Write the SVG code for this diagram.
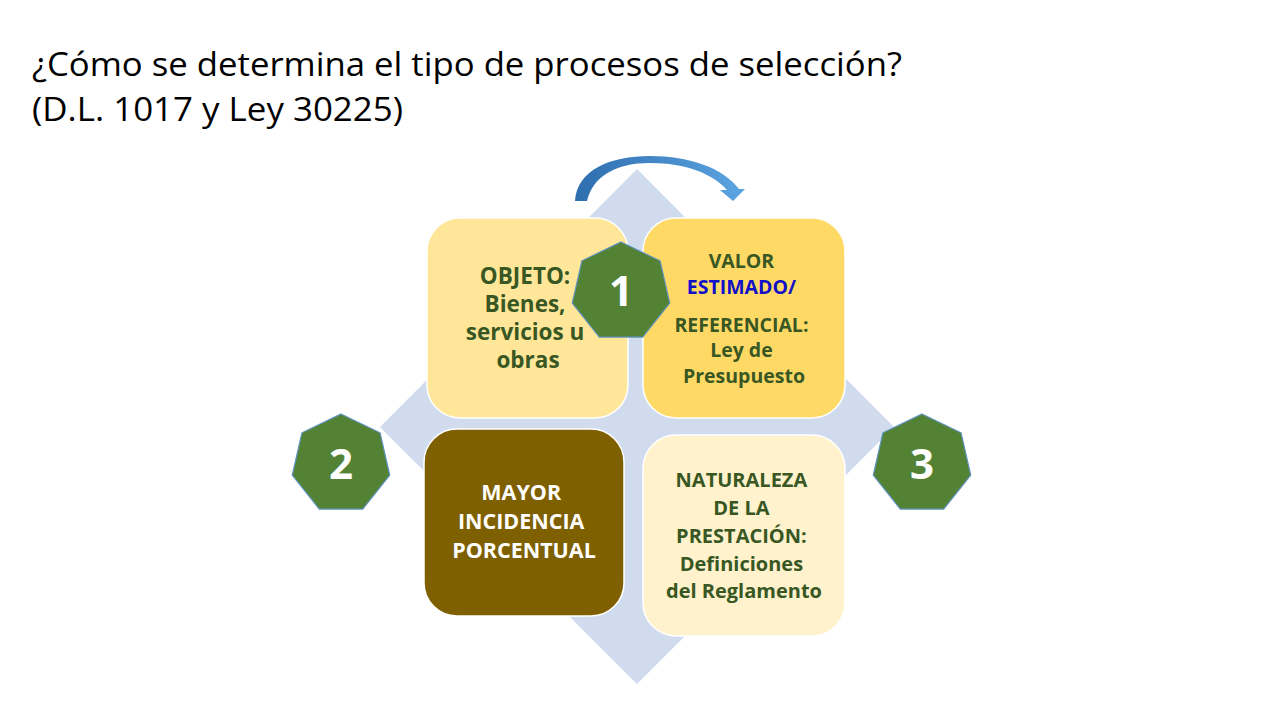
<svg xmlns="http://www.w3.org/2000/svg" width="1279" height="720" viewBox="0 0 1279 720">
  <defs>
    <linearGradient id="arrowGrad" x1="0" y1="0" x2="1" y2="0">
      <stop offset="0" stop-color="#2E6DAE"/>
      <stop offset="1" stop-color="#5DA5E2"/>
    </linearGradient>
    <polygon id="hept" points="0,-50 39.09,-31.17 48.75,11.13 21.69,45.05 -21.69,45.05 -48.75,11.13 -39.09,-31.17"/>
  </defs>
  <style>
    .title { font-family: "Open Sans", "Noto Sans", "Liberation Sans", sans-serif; font-size: 33.5px; fill: #000000; }
    .box { stroke: #FFFFFF; stroke-width: 1.5; }
    .txt { font-family: "Open Sans", "Noto Sans", "Liberation Sans", sans-serif; font-weight: bold; text-anchor: middle; fill: #385723; }
    .wtxt { fill: #FFFFFF; }
    .blue { fill: #1010C8; }
    .hept { fill: #548235; stroke: #5E93BF; stroke-width: 1.2; }
    .num { font-family: "Open Sans", "Noto Sans", "Liberation Sans", sans-serif; font-weight: bold; font-size: 42px; fill: #FFFFFF; text-anchor: middle; }
  </style>
  <rect width="1279" height="720" fill="#FFFFFF"/>

  <g id="title">
    <text class="title" x="32" y="76" textLength="870" lengthAdjust="spacingAndGlyphs">¿Cómo se determina el tipo de procesos de selección?</text>
    <text class="title" x="32" y="121" textLength="371" lengthAdjust="spacingAndGlyphs">(D.L. 1017 y Ley 30225)</text>
  </g>

  <g id="background-diamond">
    <polygon points="637,169 894,427 637,684 380,427" fill="#D0DCEE"/>
  </g>

  <g id="connectors">
    <path d="M575,201 C577,170 610,156 650,156 C690,156 723,168 739,189 L745,189 L733,201 L720,190 L727,190 C713,174 686,163 650,163 C616,163 593,176 587,201 Z" fill="url(#arrowGrad)"/>
  </g>

  <g id="node-objeto">
    <rect class="box" x="427" y="218" width="201" height="200" rx="33" fill="#FFE699"/>
    <text class="txt" font-size="22.5" x="528">
      <tspan x="528" y="284">OBJETO:</tspan>
      <tspan x="528" y="312">Bienes,</tspan>
      <tspan x="528" y="340">servicios u</tspan>
      <tspan x="528" y="368">obras</tspan>
    </text>
  </g>

  <g id="node-valor">
    <rect class="box" x="643" y="218" width="202" height="200" rx="33" fill="#FFD966"/>
    <text class="txt" font-size="19.5" x="744">
      <tspan x="744" y="268">VALOR</tspan>
      <tspan class="blue" x="744" y="294">ESTIMADO/</tspan>
      <tspan x="744" y="332">REFERENCIAL:</tspan>
      <tspan x="744" y="357">Ley de</tspan>
      <tspan x="744" y="383">Presupuesto</tspan>
    </text>
  </g>

  <g id="node-mayor">
    <rect class="box" x="424" y="429" width="200" height="187" rx="33" fill="#7F6000"/>
    <text class="txt wtxt" font-size="21.5" x="524">
      <tspan x="524" y="500">MAYOR</tspan>
      <tspan x="524" y="529">INCIDENCIA</tspan>
      <tspan x="524" y="558">PORCENTUAL</tspan>
    </text>
  </g>

  <g id="node-naturaleza">
    <rect class="box" x="643" y="435" width="202" height="201" rx="33" fill="#FFF2CC"/>
    <text class="txt" font-size="20" x="744">
      <tspan x="744" y="487">NATURALEZA</tspan>
      <tspan x="744" y="515">DE LA</tspan>
      <tspan x="744" y="543">PRESTACIÓN:</tspan>
      <tspan x="744" y="571">Definiciones</tspan>
      <tspan x="744" y="598">del Reglamento</tspan>
    </text>
  </g>

  <g id="badge-1">
    <use href="#hept" class="hept" x="621" y="292"/>
    <text class="num" x="621" y="306">1</text>
  </g>

  <g id="badge-2">
    <use href="#hept" class="hept" x="341" y="464"/>
    <text class="num" x="341" y="479">2</text>
  </g>

  <g id="badge-3">
    <use href="#hept" class="hept" x="922" y="464"/>
    <text class="num" x="922" y="479">3</text>
  </g>
</svg>
